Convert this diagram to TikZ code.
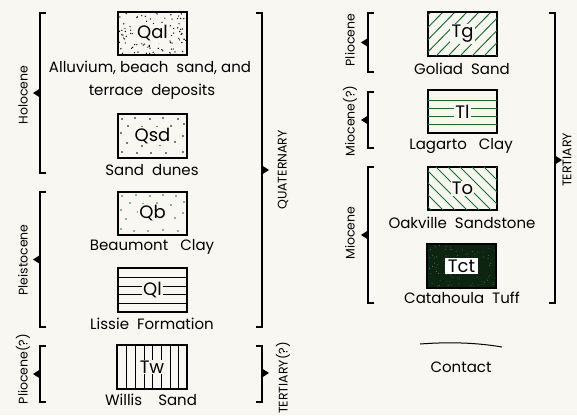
\documentclass[tikz,border=0pt]{standalone}
\usepackage{fontspec}
\setmainfont{Poppins}
\definecolor{paper}{HTML}{F8F7F2}
\definecolor{geogreen}{HTML}{1A6E2C}
\definecolor{tuff}{HTML}{0C2410}
\tikzset{
  unit/.style={draw, line width=1.1pt, minimum width=69pt, minimum height=43pt, inner sep=0pt},
  code/.style={fill=paper, inner sep=1.2pt, font=\fontsize{18}{18}\selectfont},
  desc/.style={font=\fontsize{15}{16}\selectfont, inner sep=0pt},
  epoch/.style={rotate=90, font=\fontsize{12.5}{13}\selectfont, inner sep=0pt},
  brk/.style={line width=1.1pt},
  hatch/.style={line width=0.7pt},
  ghatch/.style={line width=0.95pt, geogreen},
}
\newcommand\leftbrk[3]{% x, top, bottom
  \draw[brk] (#1+6,#2) -- (#1,#2) -- (#1,#3) -- (#1+6,#3);
  \pgfmathsetmacro\ym{(#2+#3)/2}
  \fill (#1,\ym-4.5) -- (#1-7,\ym) -- (#1,\ym+4.5) -- cycle;}
\newcommand\rightbrk[4]{% x, top, bottom, arrow y
  \draw[brk] (#1-6,#2) -- (#1,#2) -- (#1,#3) -- (#1-6,#3);
  \fill (#1,#4-4.5) -- (#1+7,#4) -- (#1,#4+4.5) -- cycle;}
\begin{document}
\begin{tikzpicture}[x=1pt,y=-1pt]
\fill[paper] (0,0) rectangle (577,415);
\useasboundingbox (0,0) rectangle (577,415);

% ---------- left column ----------
% Qal
\node[unit] (qal) at (152.5,33.5) {};
\begin{scope}
  \clip (qal.south west) rectangle (qal.north east);
  \pgfmathsetseed{3}
  \foreach \i in {1,...,110} {\fill ({118+rnd*69},{12+rnd*43}) circle (0.7);}
\end{scope}
\draw[line width=1.1pt] (qal.south west) rectangle (qal.north east);
\node[code] (qalt) at (qal.center) {Qal};
\node[desc] (qald1) at (150,68) {Alluvium, beach\ \ sand, and};
\node[desc] (qald2) at (152,92) {terrace\ \ deposits};

% Qsd
\node[unit] (qsd) at (152.5,136) {};
\begin{scope}
  \clip (qsd.south west) rectangle (qsd.north east);
  \foreach \px/\py in {122/119,135/118,150/119,163/118,178/119,184/124,
    128/126,142/127,157/127,171/126,121/133,135/137,168/134,183/136,
    127/143,142/146,160/145,175/142,122/152,137/153,151/153,166/153,183/152}
    {\fill (\px,\py) circle (0.8);}
\end{scope}
\draw[line width=1.1pt] (qsd.south west) rectangle (qsd.north east);
\node[code] (qsdt) at (qsd.center) {Qsd};
\node[desc] (qsdd) at (152,170) {Sand\ \ dunes};

% Qb
\node[unit] (qb) at (152.5,213.5) {};
\begin{scope}
  \clip (qb.south west) rectangle (qb.north east);
  \foreach \px/\py in {122/196,136/195,150/196,163/195,176/196,
    130/203,143/204,157/203,171/205,184/202,121/210,138/212,
    183/213,126/219,143/221,160/220,175/218,
    121/229,134/231,148/231,163/230,178/231}
    {\fill[geogreen] (\px,\py) circle (0.85);}
\end{scope}
\draw[line width=1.1pt] (qb.south west) rectangle (qb.north east);
\node[code] (qbt) at (qb.center) {Qb};
\node[desc] (qbd) at (152,247) {Beaumont\ \ \ Clay};

% Ql
\node[unit] (ql) at (152.5,290) {};
\foreach \yy in {277,286,294,303} {\draw[hatch] (118,\yy) -- (187,\yy);}
\draw[line width=1.1pt] (ql.south west) rectangle (ql.north east);
\node[code] (qlt) at (ql.center) {Ql};
\node[desc] (qld) at (152,324) {Lissie\ \ Formation};

% Tw
\node[unit] (tw) at (152,367) {};
\foreach \xx in {126,135,144,152.5,161,170,178.5} {\draw[hatch] (\xx,346) -- (\xx,388);}
\draw[line width=1.1pt] (tw.south west) rectangle (tw.north east);
\node[code] (twt) at (tw.center) {Tw};
\node[desc] (twd) at (151,400) {Willis\ \ \ \ Sand};

% brackets left column
\leftbrk{40}{13}{173}
\node[epoch] (holo) at (23,95) {Holocene};
\leftbrk{40}{192}{327}
\node[epoch] (pleis) at (23,260) {Pleistocene};
\leftbrk{40}{346}{402}
\node[epoch] (plioq) at (23,369) {Pliocene(?)};

\rightbrk{262}{13}{327}{170}
\node[epoch] (quat) at (283,170) {QUATERNARY};
\rightbrk{262}{346}{402}{373}
\node[epoch] (tertq) at (283,378) {TERTIARY(?)};

% ---------- right column ----------
% Tg
\node[unit] (tg) at (462.5,34) {};
\begin{scope}
  \clip (tg.south west) rectangle (tg.north east);
  \foreach \k in {-40,-28,...,70} {\draw[ghatch] (428+\k,56) -- (428+\k+43,12);}
\end{scope}
\draw[line width=1.1pt] (tg.south west) rectangle (tg.north east);
\node[code] (tgt) at (tg.center) {Tg};
\node[desc] (tgd) at (462,69) {Goliad\ \ Sand};

% Tl
\node[unit] (tl) at (462.5,111.5) {};
\foreach \yy in {100,108,116,124} {\draw[ghatch] (428,\yy) -- (497,\yy);}
\draw[line width=1.1pt] (tl.south west) rectangle (tl.north east);
\node[code] (tlt) at (tl.center) {Tl};
\node[desc] (tld) at (461,146) {Lagarto\ \ \ Clay};

% To
\node[unit] (to) at (462.5,188.5) {};
\begin{scope}
  \clip (to.south west) rectangle (to.north east);
  \foreach \k in {-40,-28,...,70} {\draw[ghatch] (428+\k,167) -- (428+\k+43,210);}
\end{scope}
\draw[line width=1.1pt] (to.south west) rectangle (to.north east);
\node[code] (tot) at (to.center) {To};
\node[desc] (tod) at (462,223) {Oakville\ \ Sandstone};

% Tct
\node[unit, fill=tuff] (tct) at (461.5,266) {};
\begin{scope}
  \clip (tct.south west) rectangle (tct.north east);
  \pgfmathsetseed{7}
  \foreach \i in {1,...,90} {\fill[geogreen!80!white] ({427+rnd*69},{245+rnd*42}) circle (0.45);}
\end{scope}
\draw[line width=1.1pt] (tct.south west) rectangle (tct.north east);
\node[code, fill=white, inner xsep=3pt] (tctt) at (tct.center) {Tct};
\node[desc] (tctd) at (462,298) {Catahoula\ \ Tuff};

% brackets right column
\leftbrk{368}{13}{72}
\node[epoch] (plio) at (350,40) {Pliocene};
\leftbrk{368}{92}{148}
\node[epoch] (mioq) at (350,121) {Miocene(?)};
\leftbrk{368}{167}{303}
\node[epoch] (mio) at (350,233) {Miocene};

\rightbrk{555}{13}{303}{160}
\node[epoch] (tert) at (567,160) {TERTIARY};

% contact
\coordinate (c1) at (420,344);
\coordinate (c2) at (502,347);
\draw[line width=1pt] (c1) .. controls (440,342.5) and (470,341.5) .. (c2);
\node[desc] (contact) at (461,367) {Contact};
\end{tikzpicture}
\end{document}
